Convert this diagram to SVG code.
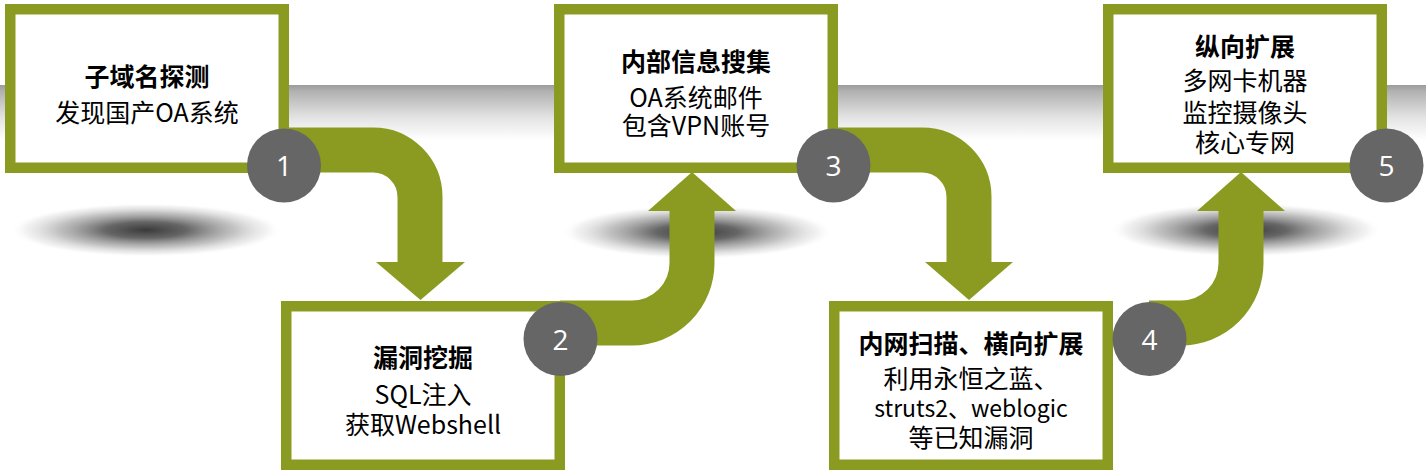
<svg xmlns="http://www.w3.org/2000/svg" width="1426" height="475" viewBox="0 0 1426 475">
<defs>
<linearGradient id="band" x1="0" y1="0" x2="0" y2="1">
<stop offset="0" stop-color="#9c9c9c"/>
<stop offset="0.12" stop-color="#b2b2b2"/>
<stop offset="0.6" stop-color="#e4e4e4"/>
<stop offset="1" stop-color="#ffffff"/>
</linearGradient>
<radialGradient id="shadow" cx="0.5" cy="0.5" r="0.5">
<stop offset="0" stop-color="#3a3a3a" stop-opacity="1"/>
<stop offset="0.3" stop-color="#555555" stop-opacity="0.9"/>
<stop offset="0.65" stop-color="#9a9a9a" stop-opacity="0.6"/>
<stop offset="0.88" stop-color="#d0d0d0" stop-opacity="0.3"/>
<stop offset="1" stop-color="#ffffff" stop-opacity="0"/>
</radialGradient>
<style>
.box{fill:#ffffff;stroke:#8b9b21;stroke-width:10.5}
.shaft{fill:none;stroke:#8b9b21;stroke-width:45;stroke-linecap:butt}
.head{fill:#8b9b21}
.num{fill:#666666}
.numt{fill:#ffffff;font-family:"Open Sans","Noto Sans",sans-serif;font-size:28px;text-anchor:middle}
.t{fill:#000000;font-family:"Noto Sans CJK SC","Noto Sans",sans-serif;font-size:25px;font-weight:bold;text-anchor:middle}
.b{fill:#000000;font-family:"Noto Sans CJK SC","Noto Sans",sans-serif;font-size:25px;text-anchor:middle}
.s{font-size:23px}
</style>
</defs>
<rect width="1426" height="475" fill="#ffffff"/>
<rect x="0" y="85" width="1426" height="55" fill="url(#band)"/>
<ellipse cx="146" cy="230" rx="136" ry="27" fill="url(#shadow)"/>
<ellipse cx="697" cy="232" rx="136" ry="27" fill="url(#shadow)"/>
<ellipse cx="1246" cy="230" rx="136" ry="27" fill="url(#shadow)"/>

<g id="node1"><rect class="box" x="10.25" y="9.25" width="273.5" height="158.5"/>
<text class="t" x="147" y="85.5">子域名探测</text>
<text class="b" x="147" y="121.5">发现国产OA系统</text></g>

<g id="node2"><rect class="box" x="286.25" y="306.25" width="273.5" height="158.5"/>
<text class="t" x="423" y="366.5">漏洞挖掘</text>
<text class="b" x="423" y="403.5">SQL注入</text>
<text class="b" x="423" y="433.5">获取Webshell</text></g>

<g id="node3"><rect class="box" x="559.25" y="9.25" width="273.5" height="158.5"/>
<text class="t" x="696" y="70.5">内部信息搜集</text>
<text class="b" x="696" y="107">OA系统邮件</text>
<text class="b" x="696" y="134.5">包含VPN账号</text></g>

<g id="node4"><rect class="box" x="834.25" y="306.25" width="273.5" height="158.5"/>
<text class="t" x="971" y="352.5">内网扫描、横向扩展</text>
<text class="b" x="971" y="387.5">利用永恒之蓝、</text>
<text class="b s" x="971" y="416.5">struts2、weblogic</text>
<text class="b" x="971" y="446.5">等已知漏洞</text></g>

<g id="node5"><rect class="box" x="1108.25" y="9.25" width="273.5" height="158.5"/>
<text class="t" x="1245" y="55.5">纵向扩展</text>
<text class="b" x="1245" y="89.5">多网卡机器</text>
<text class="b" x="1245" y="121.5">监控摄像头</text>
<text class="b" x="1245" y="152">核心专网</text></g>

<g id="connectors">
<path class="shaft" d="M284 150 H373 A47 47 0 0 1 420 197 V263"/>
<polygon class="head" points="376,262 465,262 420.5,300"/>
<path class="shaft" d="M560 323 H632 A60 60 0 0 0 692 263 V210"/>
<polygon class="head" points="648,211 736,211 692,172"/>
<path class="shaft" d="M833 150 H922 A47 47 0 0 1 969 197 V263"/>
<polygon class="head" points="925,262 1013,262 969,300"/>
<path class="shaft" d="M1149 323 H1181 A60 60 0 0 0 1241 263 V210"/>
<polygon class="head" points="1197,211 1285,211 1241,172"/>
</g>

<g id="step1"><circle class="num" cx="284" cy="165.5" r="37"/><text class="numt" x="284" y="176">1</text></g>
<g id="step2"><circle class="num" cx="560.5" cy="339" r="37"/><text class="numt" x="560.5" y="349.5">2</text></g>
<g id="step3"><circle class="num" cx="833.5" cy="165.5" r="37"/><text class="numt" x="833.5" y="176">3</text></g>
<g id="step4"><circle class="num" cx="1149.5" cy="339" r="37"/><text class="numt" x="1149.5" y="349.5">4</text></g>
<g id="step5"><circle class="num" cx="1386.5" cy="165.5" r="37"/><text class="numt" x="1386.5" y="176">5</text></g>
</svg>
